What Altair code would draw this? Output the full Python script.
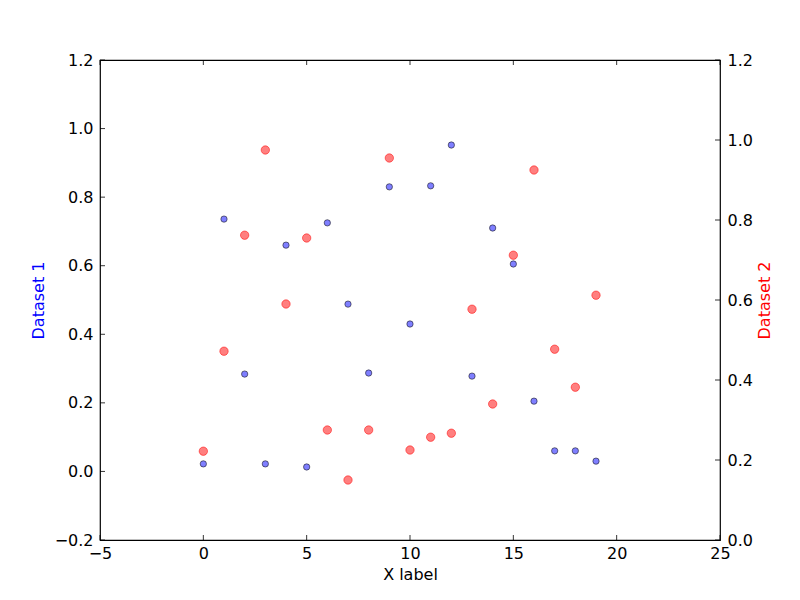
import altair as alt
import pandas as pd

# Data
x_vals = list(range(20))
dataset1 = [0.022, 0.736, 0.284, 0.022, 0.660, 0.013, 0.725, 0.488, 0.287, 0.830,
            0.430, 0.833, 0.952, 0.278, 0.710, 0.605, 0.205, 0.060, 0.060, 0.030]
dataset2 = [0.222, 0.472, 0.762, 0.975, 0.590, 0.755, 0.275, 0.150, 0.275, 0.955,
            0.225, 0.257, 0.267, 0.577, 0.340, 0.712, 0.925, 0.477, 0.382, 0.612]

x_ticks = [-5, 0, 5, 10, 15, 20, 25]
y1_ticks = [-0.2, 0.0, 0.2, 0.4, 0.6, 0.8, 1.0, 1.2]
y2_ticks = [0.0, 0.2, 0.4, 0.6, 0.8, 1.0, 1.2]

df1 = pd.DataFrame({"x": x_vals, "y": dataset1})
df2 = pd.DataFrame({"x": x_vals, "y": dataset2})
dfx = pd.DataFrame({"v": x_ticks})
dfy1 = pd.DataFrame({"v": y1_ticks})
dfy2 = pd.DataFrame({"v": y2_ticks})

FONT = "DejaVu Sans"
FS = 16

xscale = alt.Scale(domain=[-5, 25], nice=False, zero=False)
y1scale = alt.Scale(domain=[-0.2, 1.2], nice=False, zero=False)
y2scale = alt.Scale(domain=[0.0, 1.2], nice=False, zero=False)

x_axis = alt.Axis(values=x_ticks, format="d", title="X label", grid=False, domain=False,
                  tickSize=0, labelPadding=5, labelFontSize=FS, labelFont=FONT,
                  labelColor="black", labelFlush=False, labelOverlap=False,
                  titleFont=FONT, titleFontSize=FS, titleFontWeight="normal",
                  titleColor="black", titleY=34, titleBaseline="middle")

y1_axis = alt.Axis(values=y1_ticks, format=".1f", title="Dataset 1", grid=False, domain=False,
                   tickSize=0, labelPadding=7, labelFontSize=FS, labelFont=FONT,
                   labelColor="black", labelFlush=False, labelOverlap=False,
                   titleFont=FONT, titleFontSize=FS, titleFontWeight="normal",
                   titleColor="blue", titleX=-62, titleY=240, titleAngle=270,
                   titleBaseline="middle", titleAlign="center")

y2_axis = alt.Axis(values=y2_ticks, format=".1f", title="Dataset 2", orient="right", grid=False,
                   domain=False, tickSize=0, labelPadding=7, labelFontSize=FS, labelFont=FONT,
                   labelColor="black", labelFlush=False, labelOverlap=False,
                   titleFont=FONT, titleFontSize=FS, titleFontWeight="normal",
                   titleColor="red", titleX=44, titleY=240, titleAngle=270,
                   titleBaseline="middle", titleAlign="center")

blue = alt.Chart(df1).mark_circle(
    size=40, fill="#0000ff", fillOpacity=0.5, stroke="black", strokeOpacity=0.5, strokeWidth=1
).encode(
    x=alt.X("x:Q", scale=xscale, axis=x_axis),
    y=alt.Y("y:Q", scale=y1scale, axis=y1_axis),
)

red = alt.Chart(df2).mark_circle(
    size=70, fill="red", fillOpacity=0.5, stroke="red", strokeOpacity=0.5, strokeWidth=1
).encode(
    x=alt.X("x:Q", scale=xscale, axis=x_axis),
    y=alt.Y("y:Q", scale=y2scale, axis=y2_axis),
)

tick_style = dict(color="black", strokeWidth=0.8)

xticks_bottom = alt.Chart(dfx).mark_rule(**tick_style).encode(
    x=alt.X("v:Q", scale=xscale, axis=x_axis),
    y=alt.value(480), y2=alt.value(475),
)
xticks_top = alt.Chart(dfx).mark_rule(**tick_style).encode(
    x=alt.X("v:Q", scale=xscale, axis=x_axis),
    y=alt.value(0), y2=alt.value(5),
)
y1ticks = alt.Chart(dfy1).mark_rule(**tick_style).encode(
    y=alt.Y("v:Q", scale=y1scale, axis=None),
    x=alt.value(0), x2=alt.value(5),
)
y2ticks = alt.Chart(dfy2).mark_rule(**tick_style).encode(
    y=alt.Y("v:Q", scale=y2scale, axis=None),
    x=alt.value(620), x2=alt.value(615),
)

chart = alt.layer(
    blue, red, xticks_bottom, xticks_top, y1ticks, y2ticks
).resolve_scale(
    y="independent"
).properties(
    width=620, height=480,
    autosize=alt.AutoSizeParams(type="none"),
    padding={"left": 92, "top": 52, "right": 72, "bottom": 52},
    background="white",
).configure_view(
    stroke="black", strokeWidth=1.2
)

chart.save("out.html", embed_options={"renderer": "svg", "actions": False})
